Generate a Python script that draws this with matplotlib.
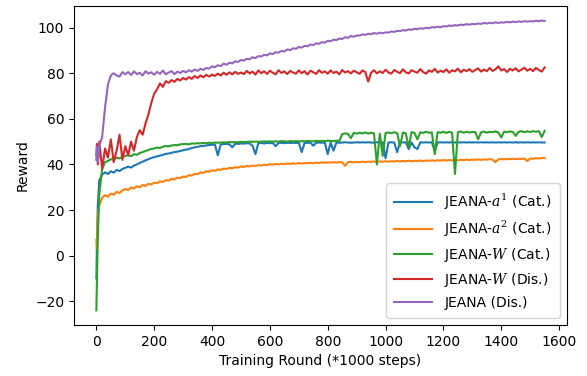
import matplotlib
matplotlib.use("Agg")
import matplotlib.pyplot as plt

plt.rcParams['mathtext.fontset'] = 'dejavuserif'

# sampled training rounds (*1000 steps)
rounds = [0, 2, 5] + list(range(10, 1551, 10))

a1_cat = [-10, 5, 22, 33, 35.5,
          36.5, 35.8, 37, 36.4, 37.6, 37.1, 38, 38.5,
          39, 38.6, 39.5, 40, 40.6, 41.2, 41.8, 42.3, 42.8, 43.2,
          43.5, 43.9, 44.2, 44.6, 44.8, 45.1, 45.4, 45.6, 45.9, 46.2,
          46.5, 46.7, 47.2, 47.5, 47.7, 48, 48.1, 48.3, 48.5, 48.6,
          48.7, 44, 48.8, 48.9, 49, 48.8, 47.5, 49.1, 49, 49.2,
          49.1, 49.3, 49.2, 48.2, 44.5, 49.3, 49.4, 49.2, 49.4, 49.3,
          49.4, 48, 49.4, 49.5, 49.3, 49.5, 49.4, 49.5, 49.4, 49.5,
          45.4, 49.5, 49.4, 49.6, 48.2, 49.5, 49.6, 49.5, 49.6, 44.5,
          49.6, 46, 49.6, 49.5, 49.6, 49.7, 49.6, 49.5, 49.6, 49.7,
          49.6, 49.7, 49.6, 49.7, 49.6, 49.5, 49.7, 49.6, 49.7, 42.7,
          49.6, 49.7, 49.6, 45.4, 49.7, 49.6, 49.7, 46.7, 49.6, 47.5,
          46.7, 49.7, 49.6, 49.7, 49.6, 49.7, 46, 49.6, 49.7, 49.6,
          49.7, 49.6, 49.7, 49.6, 49.7, 49.6, 49.7, 49.6, 49.7, 49.6,
          49.7, 49.6, 49.7, 49.6, 49.7, 49.6, 49.7, 49.6, 49.7, 49.6,
          49.7, 49.6, 49.7, 49.6, 49.7, 49.6, 49.7, 49.6, 49.7, 49.6,
          49.7, 49.6, 49.7, 49.6, 49.6]

a2_cat = [7, 3, 18, 22, 25.5,
          26.5, 25.8, 27.2, 26.7, 28, 27.4, 28.6, 29.2,
          28.8, 29.9, 29.4, 30.4, 30, 31, 30.6, 31.5, 31.2, 32,
          31.8, 32.6, 32.3, 33.1, 32.9, 33.7, 33.4, 34.2, 34, 34.7,
          34.5, 35.3, 35.1, 35.9, 35.7, 36.5, 36.2, 37, 36.8, 37.4,
          37.2, 37.8, 37.6, 38.2, 38, 38.5, 38.3, 38.8, 38.6, 39.1,
          38.9, 39.3, 39.1, 39.5, 39.3, 39.7, 39.5, 39.9, 39.7, 40.1,
          39.9, 40.2, 40, 40.3, 40.1, 40.4, 40.2, 40.5, 40.3, 40.6,
          40.4, 40.6, 40.5, 40.7, 40.5, 40.8, 40.6, 40.9, 40.7, 40.9,
          40.8, 41, 40.8, 41, 40.9, 39.4, 41, 41.1, 40.9, 41.1,
          41, 41.2, 41, 41.2, 41.1, 41.3, 41.1, 41.3, 41.2, 41.4,
          41.2, 41.4, 41.3, 41.5, 41.3, 41.5, 41.4, 41.6, 41.4, 41.6,
          41.5, 41.7, 41.5, 41.7, 41.6, 41.8, 41.6, 41.8, 41.7, 41.9,
          41.7, 41.9, 41.8, 42, 41.8, 42, 41.9, 42.1, 41.9, 42.1,
          42, 42.2, 42, 42.2, 42.1, 42.3, 42.1, 41, 42.2, 42.4,
          42.2, 42.4, 42.3, 42.5, 42.3, 42.5, 42.4, 42.6, 41.5, 42.6,
          42.5, 42.7, 42.6, 42.8, 42.8]

w_cat = [-24, -10, 8, 27, 38,
         41, 41.5, 42.3, 42, 43, 42.6, 43.4, 43.7,
         44, 43.6, 44.5, 44.2, 45, 45.4, 45.9, 46.3, 46.8, 47,
         47.4, 47.2, 47.8, 48, 47.9, 48.3, 48.5, 48.4, 48.8, 48.9,
         49, 48.8, 49.2, 49.1, 49.3, 49.2, 49.4, 49.3, 49.5, 49.4,
         49.6, 49.5, 49.6, 49.7, 49.6, 49.8, 49.7, 49.8, 49.7, 49.9,
         49.8, 49.9, 50, 49.9, 50, 49.9, 50, 50.1, 50, 50.1,
         50, 50.1, 50, 50.2, 50.1, 50, 50.2, 50.1, 50.2, 50.1,
         50.2, 50.1, 50.3, 50.2, 50.1, 50.3, 50.2, 50.3, 50.2, 50.4,
         50.3, 50.2, 50.4, 50.3, 53.2, 53.6, 53.4, 51.5, 53.8, 53.5,
         53.9, 53.6, 54, 53.5, 53.9, 53.6, 40, 53.5, 43.7, 53.8,
         54, 53.7, 54.1, 53.8, 48, 54, 53.6, 47.5, 54.2, 53.8,
         51, 54.1, 53.8, 54.3, 53.9, 54, 44.5, 54.2, 53.9, 54.3,
         53.8, 54.3, 53.9, 35.8, 54.1, 54.4, 53.9, 54.3, 54, 54.2,
         54.2, 51, 54, 54.4, 53.9, 54.3, 54.1, 54.5, 54, 51.8,
         54.4, 54.1, 54.5, 54.2, 52.5, 54.3, 54.6, 54.1, 54.5, 54.2,
         54.6, 54.3, 54.6, 52, 54.7]

w_dis = [44, 49, 40, 50, 38,
         47, 43, 51, 41, 46, 53, 42, 48,
         44, 50, 46, 52, 55, 53, 58, 62, 67, 71,
         73, 75.5, 74, 76.5, 75.8, 77, 76.2, 77.5, 76.8, 77.9,
         77.2, 78.3, 77.5, 78.8, 77.9, 79, 78.2, 79.3, 78.5, 79.4,
         78.8, 79.8, 79, 80.2, 79.3, 80.4, 79.5, 80.6, 79.7, 80.3,
         79.6, 81, 79.9, 80.7, 79.4, 81.2, 80, 80.8, 79.7, 81.1,
         80.2, 79.5, 81.3, 80.1, 80.8, 79.6, 81, 80.3, 79.8, 81.2,
         80, 80.9, 79.4, 81.1, 80.4, 79.7, 81.3, 80.2, 80.8, 79.8,
         81.2, 80.1, 80.7, 79.5, 81.4, 80.3, 80.9, 79.9, 81.1, 80.4,
         79.7, 81.2, 80.5, 76.3, 80.2, 81.3, 79.9, 80.8, 80.1, 81.5,
         80.3, 79.8, 81.4, 80.6, 80, 81.7, 80.4, 79.9, 81.3, 80.7,
         80.2, 81.8, 80.5, 79.8, 81.2, 80.6, 81.9, 80.3, 81.1, 80.5,
         81.7, 80.2, 81.3, 80.8, 82, 80.4, 81.5, 80.9, 81.8, 80.6,
         81.4, 82.1, 80.7, 81.6, 80.9, 82.3, 81, 81.7, 83, 81.2,
         81.8, 80.5, 81.9, 81.2, 82.2, 80.8, 81.6, 82.4, 81.1, 81.9,
         80.9, 82.3, 81.4, 80.7, 82.5]

jeana_dis = [42, 48, 41, 48, 52,
             65, 75, 79, 80, 79, 78.5, 80.5, 79.5,
             80.5, 79.2, 80.8, 79.6, 80.2, 79, 80.9, 79.8, 80.4, 79.3,
             80.6, 79.7, 81.2, 79.5, 80.3, 80.9, 79.6, 80.7, 80.1, 81,
             80.4, 81.3, 80.7, 81.6, 81, 82, 81.4, 82.3, 82, 83,
             82.6, 83.5, 83.1, 84.2, 83.7, 84.6, 84.3, 85.2, 84.9, 85.8,
             85.5, 86.3, 86.1, 87, 86.6, 87.5, 87.3, 88.1, 87.8, 88.7,
             88.4, 89.2, 89, 89.8, 89.5, 90.4, 90.1, 90.9, 90.7, 91.5,
             91.2, 92, 91.8, 92.6, 92.3, 93.1, 92.9, 93.6, 93.4, 94.2,
             94, 94.7, 94.5, 95.2, 95, 95.8, 95.5, 96.3, 96, 96.5,
             96.5, 97, 96.8, 97.3, 97.1, 97.6, 97.3, 97.8, 97.5, 97.9,
             97.8, 98.3, 98.1, 98.6, 98.4, 98.9, 98.7, 99.2, 99, 99.5,
             99.3, 99.7, 99.5, 99.9, 99.7, 100.2, 100, 100.4, 100.2, 100.6,
             100.5, 100.9, 100.7, 101.1, 100.9, 101.3, 101.1, 101.5, 101.3, 101.6,
             101.5, 101.8, 101.6, 102, 101.8, 102.1, 101.9, 102.3, 102, 102.3,
             102.2, 102.5, 102.3, 102.6, 102.4, 102.7, 102.5, 102.8, 102.6, 102.8,
             102.7, 103, 102.8, 103.1, 102.9]

series = [a1_cat, a2_cat, w_cat, w_dis, jeana_dis]
labels = [r'JEANA-$a^1$ (Cat.)', r'JEANA-$a^2$ (Cat.)', r'JEANA-$W$ (Cat.)',
          r'JEANA-$W$ (Dis.)', 'JEANA (Dis.)']

fig = plt.figure(figsize=(5.87, 3.76), dpi=100)
ax = fig.add_axes([0.126, 0.136, 0.840, 0.848])

for vals, lab in zip(series, labels):
    ax.plot(rounds, vals, label=lab)

ax.set_xticks([0, 200, 400, 600, 800, 1000, 1200, 1400, 1600])
ax.set_xlabel('Training Round (*1000 steps)')
ax.set_ylabel('Reward')
ax.legend(loc='lower right', handlelength=2.7, borderpad=0.6, handletextpad=0.9)

fig.savefig('out.png', dpi=100)
